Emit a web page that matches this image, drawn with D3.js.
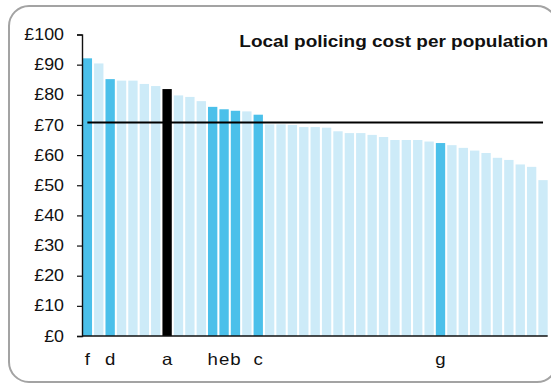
<!DOCTYPE html>
<html>
<head>
<meta charset="utf-8">
<script src="https://cdn.jsdelivr.net/npm/d3@7"></script>
<style>
  html, body { margin: 0; background: #fff; overflow: hidden; }
  svg { display: block; }
  text { font-family: "Liberation Sans", Arial, sans-serif; fill: #111; }
</style>
</head>
<body>
<div id="chart"></div>
<script>
// data (sorted high to low)
const costs = [92.1, 90.4, 85.2, 84.7, 84.7, 83.6, 82.9, 81.9, 79.8, 79.3,
  77.9, 76.0, 75.2, 74.7, 74.5, 73.4, 70.2, 70.2, 70.0, 69.3,
  69.3, 69.1, 67.9, 67.3, 67.3, 66.7, 66.0, 65.0, 65.0, 65.0,
  64.5, 64.0, 63.3, 62.4, 61.5, 60.7, 59.1, 58.4, 56.9, 56.1, 51.7];
// labels under the highlighted forces, "" for the rest
const labels = ["f", "", "d", "", "", "", "", "a", "", "",
  "", "h", "e", "b", "", "c", "", "", "", "",
  "", "", "", "", "", "", "", "", "", "",
  "", "g", "", "", "", "", "", "", "", "", ""];
const selected = "a";   // drawn in black
const average = 70.8;
const yTicks = [0, 10, 20, 30, 40, 50, 60, 70, 80, 90, 100];
const title = "Local policing cost per population";

/** CONSTANTS */
const width = 551, height = 384;
const margin = { top: 34.5, bottom: 48, left: 82, right: 3.3 };
const stretch = 1.13; // text in the original is a bit wider than tall

/** SCALES */
const xScale = d3.scaleBand()
  .domain(d3.range(costs.length))
  .range([margin.left + 0.7, width - margin.right])
  .paddingInner(0.18)
  .paddingOuter(0);

const yScale = d3.scaleLinear()
  .domain([0, 100])
  .range([height - margin.bottom, margin.top]);

const svg = d3.select("#chart")
  .append("svg")
  .attr("width", width)
  .attr("height", height);

// rounded frame, its right edge runs off the picture
svg.append("rect")
  .attr("x", 9).attr("y", 6)
  .attr("width", 548).attr("height", 376)
  .attr("rx", 20)
  .attr("fill", "#fff")
  .attr("stroke", "#a3a3a3")
  .attr("stroke-width", 2);

// bars
svg.selectAll("rect.bar")
  .data(costs)
  .join("rect")
  .attr("class", "bar")
  .attr("x", (d, i) => xScale(i))
  .attr("y", d => yScale(d))
  .attr("width", xScale.bandwidth())
  .attr("height", d => yScale(0) - yScale(d))
  .attr("fill", (d, i) => labels[i] === selected ? "#000"
    : labels[i] ? "#4bc0ea" : "#cdebf8");

// average line, from first bar centre to last bar centre
const half = xScale.bandwidth() / 2;
svg.append("line")
  .attr("x1", xScale(0) + half)
  .attr("x2", xScale(costs.length - 1) + half)
  .attr("y1", yScale(average))
  .attr("y2", yScale(average))
  .attr("stroke", "#000")
  .attr("stroke-width", 2);

/** AXES */
const yAxis = d3.axisLeft(yScale)
  .tickValues(yTicks)
  .tickSize(5)
  .tickFormat(d => "£" + d);

const gy = svg.append("g")
  .attr("transform", `translate(${margin.left},0)`)
  .style("color", "#111")
  .call(yAxis);
gy.select(".domain").attr("stroke-width", 1.4);
gy.selectAll(".tick line").attr("stroke-width", 1.2);
gy.selectAll(".tick text")
  .attr("x", -18 / stretch)
  .attr("transform", `scale(${stretch},1)`)
  .style("font-size", "15.8px");

const xAxis = d3.axisBottom(xScale)
  .tickValues(d3.range(costs.length).filter(i => labels[i]))
  .tickSize(0)
  .tickFormat(i => labels[i]);

const gx = svg.append("g")
  .attr("transform", `translate(0,${yScale(0)})`)
  .style("color", "#111")
  .call(xAxis);
gx.select(".domain")
  .attr("d", `M${margin.left},0H${width - margin.right}`)
  .attr("stroke-width", 1.4);
gx.selectAll(".tick text")
  .attr("y", 0)
  .attr("dy", 0)
  .attr("transform", `translate(0,29) scale(${stretch},1)`)
  .style("font-size", "16.5px");

// title
svg.append("text")
  .attr("transform", `translate(548,46.5) scale(${stretch},1)`)
  .attr("text-anchor", "end")
  .style("font-size", "16.8px")
  .style("font-weight", "bold")
  .text(title);
</script>
</body>
</html>
